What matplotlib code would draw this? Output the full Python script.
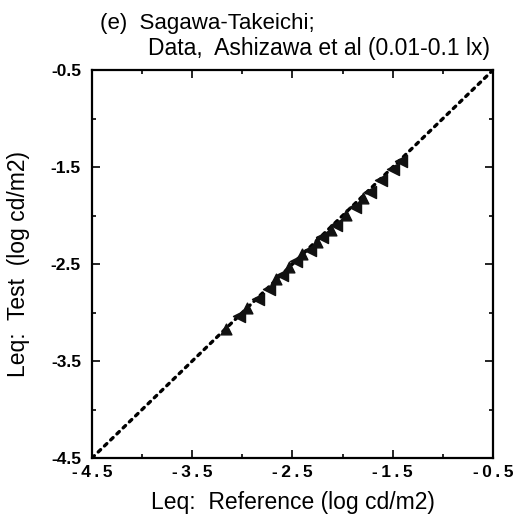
import matplotlib
matplotlib.use('Agg')
import matplotlib.pyplot as plt

plt.rcParams['font.family'] = ['Liberation Sans', 'DejaVu Sans']

# data (log cd/m2)
ref_left = [-1.42, -1.50, -1.62, -1.73, -1.88, -2.07, -2.21, -2.33, -2.46, -2.60, -2.73, -2.84, -3.03]
test_left = [-1.44, -1.52, -1.63, -1.76, -1.91, -2.10, -2.22, -2.35, -2.47, -2.61, -2.76, -2.86, -3.04]
ref_up = [-1.80, -1.97, -2.12, -2.26, -2.40, -2.53, -2.66, -2.95, -3.16]
test_up = [-1.82, -1.99, -2.15, -2.27, -2.40, -2.53, -2.65, -2.95, -3.17]

major_ticks = [-4.5, -3.5, -2.5, -1.5, -0.5]
minor_ticks = [-4.0, -3.0, -2.0, -1.0]
x_ticklabels = ['-4.5', '-3.5', '-2.5', '-1.5', '-0.5']
y_ticklabels = ['-4.5', '-3.5', '-2.5', '-1.5', '-0.5']

fig = plt.figure(figsize=(5.18, 5.22), dpi=100)
ax = fig.add_axes([0.1776, 0.1226, 0.774, 0.743])

ax.plot([-4.5, -0.5], [-4.5, -0.5], color='black', linestyle=(0, (1, 1.6)),
        linewidth=2.4, dash_capstyle='round')
ax.scatter(ref_left, test_left, marker='<', s=75, color='#111111', zorder=3)
ax.scatter(ref_up, test_up, marker='^', s=60, color='#111111', zorder=3)

ax.set_xlim(-4.5, -0.5)
ax.set_ylim(-4.5, -0.5)
ax.set_xticks(major_ticks)
ax.set_xticks(minor_ticks, minor=True)
ax.set_yticks(major_ticks)
ax.set_yticks(minor_ticks, minor=True)
ax.set_xticklabels(['\u2009'.join(t) for t in x_ticklabels], fontweight='bold', fontsize=12.5)
ax.set_yticklabels(y_ticklabels, fontweight='bold', fontsize=12.5)
ax.tick_params(which='both', direction='in', top=True, right=True, width=1.2)
ax.tick_params(which='major', length=6, pad=5)
ax.tick_params(which='minor', length=3)
ax.tick_params(axis='y', pad=8)
for s in ax.spines.values():
    s.set_linewidth(1.6)

ax.set_xlabel('Leq:  Reference (log cd/m2)', fontsize=16.5)
ax.set_ylabel('Leq:  Test  (log cd/m2)', fontsize=16.5)
ax.xaxis.set_label_coords(0.5, -0.085)
ax.yaxis.set_label_coords(-0.155, 0.5)

fig.text(0.193, 0.944, '(e)  Sagawa-Takeichi;', fontsize=16, va='baseline', ha='left')
fig.text(0.286, 0.895, 'Data,  Ashizawa et al (0.01-0.1 lx)', fontsize=16.5, va='baseline', ha='left')

fig.savefig('out.png', dpi=100)
